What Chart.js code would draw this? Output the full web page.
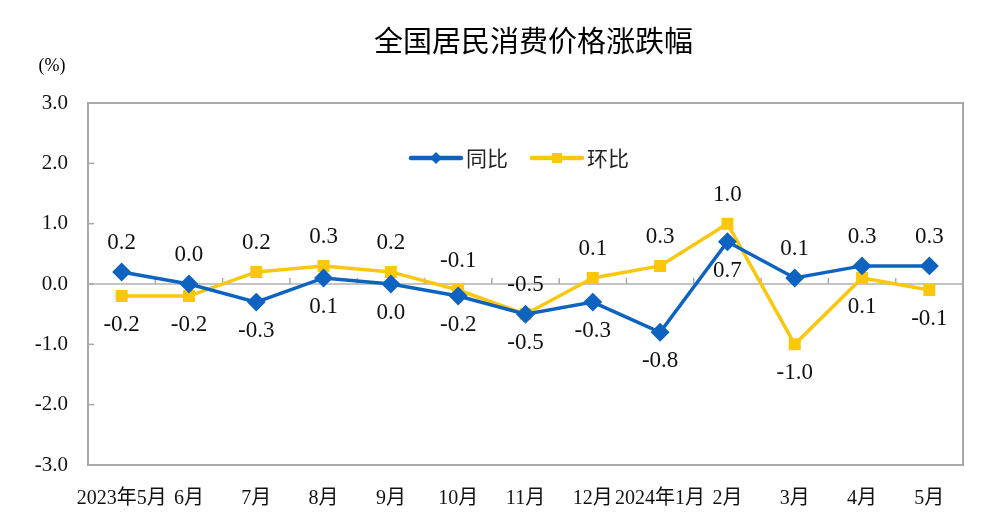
<!DOCTYPE html>
<html><head><meta charset="utf-8">
<script src="https://cdn.jsdelivr.net/npm/chart.js@4"></script>
<style>html,body{margin:0;padding:0;background:#fff;overflow:hidden}</style>
</head>
<body>
<canvas id="c" width="1000" height="518"></canvas>
<script>
const categories = ['2023年5月','6月','7月','8月','9月','10月','11月','12月','2024年1月','2月','3月','4月','5月'];
const yoyValues = [0.2, 0.0, -0.3, 0.1, 0.0, -0.2, -0.5, -0.3, -0.8, 0.7, 0.1, 0.3, 0.3];
const momValues = [-0.2, -0.2, 0.2, 0.3, 0.2, -0.1, -0.5, 0.1, 0.3, 1.0, -1.0, 0.1, -0.1];
const seriesNames = ['同比', '环比'];
const yMin = -3, yMax = 3, yStep = 1;
const titleText = '全国居民消费价格涨跌幅';
const unitText = '(%)';

const BLUE = '#0f63c0';
const YELLOW = '#fbc70d';
const GRAY = '#a9a9a9';
const SERIF = "'Liberation Serif','Noto Sans CJK SC',serif";
const CJK = "'Noto Sans CJK SC',sans-serif";

const decor = {
  id: 'decor',
  beforeDatasetsDraw(chart) {
    const {ctx, chartArea: a, scales: {x, y}} = chart;
    ctx.save();
    ctx.strokeStyle = GRAY;
    ctx.lineWidth = 2;
    ctx.strokeRect(a.left, a.top, a.right - a.left, a.bottom - a.top);
    ctx.lineWidth = 1.5;
    for (let v = yMin + yStep; v < yMax; v += yStep) {
      const py = y.getPixelForValue(v);
      ctx.beginPath(); ctx.moveTo(a.left, py); ctx.lineTo(a.left + 6, py); ctx.stroke();
    }
    const zy = y.getPixelForValue(0);
    for (let i = 0; i < categories.length - 1; i++) {
      const px = (x.getPixelForValue(i) + x.getPixelForValue(i + 1)) / 2;
      ctx.beginPath(); ctx.moveTo(px, zy); ctx.lineTo(px, zy - 6); ctx.stroke();
    }
    ctx.restore();
  },
  afterDatasetsDraw(chart) {
    const {ctx} = chart;
    ctx.save();
    ctx.font = '23px ' + SERIF;
    ctx.fillStyle = '#111';
    ctx.textAlign = 'center';
    ctx.textBaseline = 'middle';
    const all = [yoyValues, momValues];
    all.forEach((vals, di) => {
      const other = all[1 - di];
      const meta = chart.getDatasetMeta(di);
      vals.forEach((v, i) => {
        const above = v > other[i] || (v === other[i] && di === 1);
        const pt = meta.data[i];
        const ly = above ? pt.y - 29 : pt.y + 29;
        ctx.fillText(v.toFixed(1), pt.x, ly);
      });
    });
    ctx.restore();
  },
  afterDraw(chart) {
    const {ctx, chartArea: a} = chart;
    ctx.save();
    ctx.fillStyle = '#000';
    ctx.font = '29px ' + CJK;
    ctx.textAlign = 'center';
    ctx.textBaseline = 'middle';
    ctx.fillText(titleText, (a.left + a.right) / 2 + 8, 41);
    ctx.font = '18px ' + SERIF;
    ctx.fillText(unitText, 52, 66);
    const items = [
      {name: seriesNames[0], color: BLUE, style: 'diamond', x0: 411},
      {name: seriesNames[1], color: YELLOW, style: 'square', x0: 532}
    ];
    const ly = a.top + 55;
    items.forEach(it => {
      ctx.strokeStyle = it.color;
      ctx.fillStyle = it.color;
      ctx.lineWidth = 4.5;
      ctx.lineCap = 'round';
      ctx.beginPath(); ctx.moveTo(it.x0, ly); ctx.lineTo(it.x0 + 50, ly); ctx.stroke();
      const cx = it.x0 + 25;
      ctx.beginPath();
      if (it.style === 'diamond') {
        ctx.moveTo(cx, ly - 6); ctx.lineTo(cx + 6, ly); ctx.lineTo(cx, ly + 6); ctx.lineTo(cx - 6, ly);
        ctx.closePath(); ctx.fill();
      } else {
        ctx.fillRect(cx - 5, ly - 5, 10, 10);
      }
      ctx.fillStyle = '#222';
      ctx.font = '21px ' + CJK;
      ctx.textAlign = 'left';
      ctx.fillText(it.name, it.x0 + 55, ly);
    });
    ctx.restore();
  }
};

new Chart(document.getElementById('c'), {
  type: 'line',
  data: {
    labels: categories,
    datasets: [
      {label: seriesNames[0], data: yoyValues, borderColor: BLUE, backgroundColor: BLUE,
       borderWidth: 3.5, pointStyle: 'rectRot', pointRadius: 7, pointHoverRadius: 7, tension: 0},
      {label: seriesNames[1], data: momValues, borderColor: YELLOW, backgroundColor: YELLOW,
       borderWidth: 3.5, pointStyle: 'rect', pointRadius: 6, pointHoverRadius: 6, tension: 0}
    ]
  },
  options: {
    responsive: false,
    animation: false,
    devicePixelRatio: 1,
    layout: {padding: {top: 103, right: 37, bottom: 0, left: 0}},
    plugins: {legend: {display: false}, title: {display: false}, tooltip: {enabled: false}},
    scales: {
      x: {
        offset: true,
        grid: {display: false},
        border: {display: false},
        ticks: {autoSkip: false, maxRotation: 0, minRotation: 0, padding: 14, color: '#111',
                font: {family: SERIF, size: 20}},
        afterFit(s) { s.height = 53; }
      },
      y: {
        min: yMin, max: yMax,
        grid: {drawTicks: false, lineWidth: 2,
               color: c => (c.tick && c.tick.value === 0) ? '#c4c4c4' : 'rgba(0,0,0,0)'},
        border: {display: false},
        ticks: {stepSize: yStep, padding: 20, color: '#111', font: {family: SERIF, size: 21},
                callback: v => Number(v).toFixed(1)},
        afterFit(s) { s.width = 88; }
      }
    }
  },
  plugins: [decor]
});
</script>
</body></html>
